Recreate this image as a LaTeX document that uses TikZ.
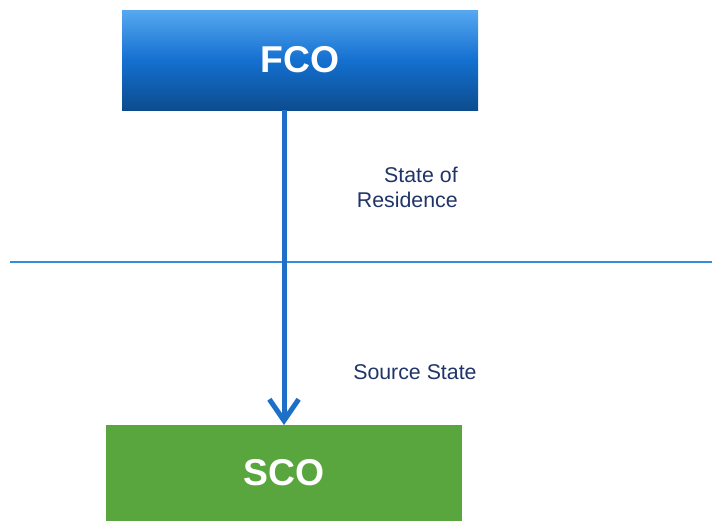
\documentclass[tikz,border=0pt]{standalone}
\usepackage{fontspec}
\setmainfont{Liberation Sans}
\usetikzlibrary{arrows.meta}
\definecolor{ftop}{RGB}{86, 168, 240}
\definecolor{fmid}{RGB}{20, 112, 208}
\definecolor{fbot}{RGB}{12, 76, 142}
\definecolor{sgreen}{RGB}{90, 166, 62}
\definecolor{cflow}{RGB}{30, 111, 200}
\definecolor{cline}{RGB}{52, 140, 220}
\definecolor{cnavy}{RGB}{31, 52, 104}

\begin{document}
\begin{tikzpicture}[x=0.75pt,y=-0.75pt,
    office/.style={minimum width=267pt,inner sep=0pt,outer sep=0pt,text=white,
        font=\fontsize{28}{32}\selectfont\bfseries},
    note/.style={text=cnavy,align=right,inner sep=0pt,font=\fontsize{16}{18.8}\selectfont},
    flow/.style={cflow,line width=3.75pt,-{Straight Barb[length=16pt,width=22pt]}},
    divider/.style={cline,line width=1.1pt}]

\useasboundingbox (0,0) rectangle (712,521);

% the two offices
\node[office,minimum height=75pt,top color=ftop,bottom color=fbot,middle color=fmid]
    (fco) at (300,60) {FCO};
\node[office,minimum height=72pt,fill=sgreen]
    (sco) at (284,473) {SCO};

% border between the two states
\coordinate (divl) at (10,262);
\coordinate (divr) at (712,262);
\draw[divider] (divl) -- (divr);

\draw[flow] (fco.south -| sco.north) -- (sco.north);

\node[note,anchor=east] (residence) at (458,187) {State of\\Residence};
\node[note,anchor=west] (source) at (353,372) {Source State};

\end{tikzpicture}
\end{document}
